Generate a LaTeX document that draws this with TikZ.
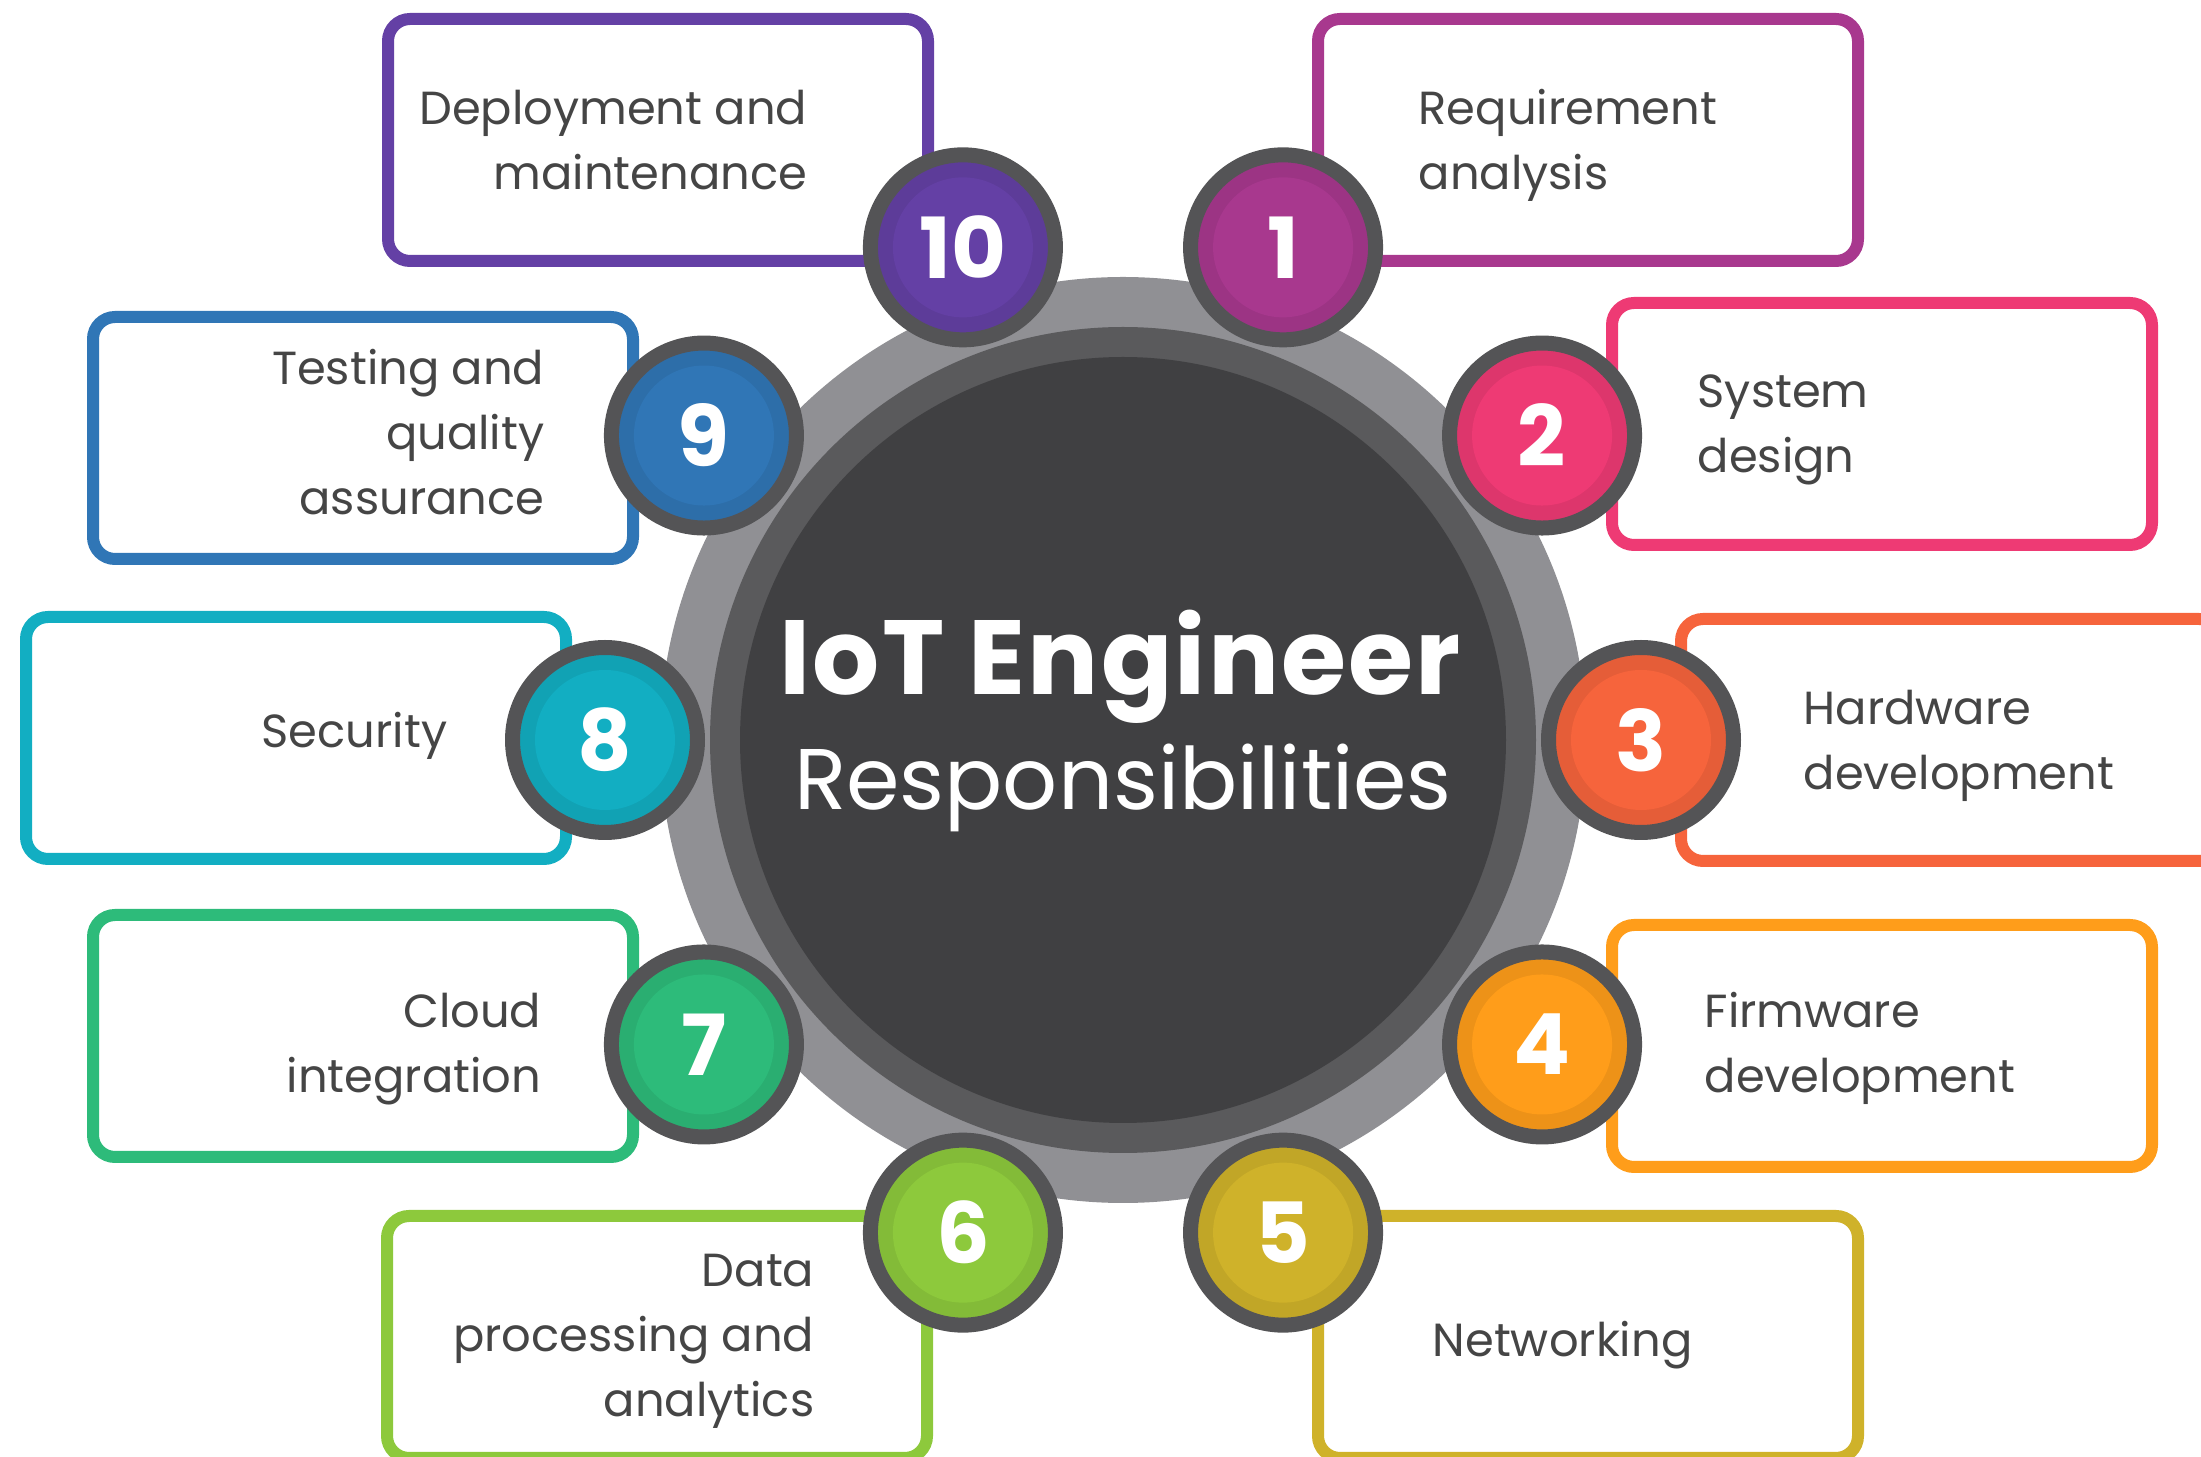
\documentclass[tikz,border=0pt]{standalone}
\usepackage{fontspec}
\setmainfont{Poppins}
\newfontfamily\headfont[LetterSpace=2]{Poppins}
\newcommand\itemfont{\fontsize{13.2}{18.5}\selectfont}
\newcommand\badgefont{\fontsize{24}{24}\selectfont\bfseries}

\definecolor{deploy}{HTML}{6440A5}
\definecolor{reqmt}{HTML}{A8388E}
\definecolor{sysdes}{HTML}{EE3A74}
\definecolor{hardw}{HTML}{F6643C}
\definecolor{firmw}{HTML}{FF9D1A}
\definecolor{netw}{HTML}{CFB22A}
\definecolor{datap}{HTML}{8DC93C}
\definecolor{cloud}{HTML}{2DBB7A}
\definecolor{secur}{HTML}{12AEC2}
\definecolor{testq}{HTML}{3076B6}
\definecolor{ringlight}{HTML}{909094}
\definecolor{ringmid}{HTML}{5A5A5C}
\definecolor{core}{HTML}{404042}
\definecolor{ringdark}{HTML}{545456}
\definecolor{textgray}{HTML}{454545}

\begin{document}
\begin{tikzpicture}[
  panel/.style={draw=#1, line width=0.12cm, rounded corners=0.22cm, fill=white,
    minimum width=5.40cm, minimum height=2.42cm, inner sep=0pt},
  badge/.style={circle, draw=ringdark, line width=0.15cm, minimum size=1.85cm,
    inner sep=0pt, fill=#1!93!black, text=white, font=\badgefont,
    path picture={\fill[#1] (path picture bounding box.center) circle (0.70);}},
  lefttext/.style={text=textgray, font=\itemfont, inner sep=0pt, align=left, anchor=base west},
  righttext/.style={text=textgray, font=\itemfont, inner sep=0pt, align=right, anchor=base east}
]
  \useasboundingbox (0,0) rectangle (22.01,14.57);
  \clip (0,0) rectangle (22.01,14.57);

  % centre disc
  \coordinate (ctr) at (11.23,7.17);
  \fill[ringlight] (ctr) circle (4.63);
  \fill[ringmid] (ctr) circle (4.13);
  \fill[core] (ctr) circle (3.83);
  \node[font=\headfont\bfseries\fontsize{30}{30}\selectfont, text=white, anchor=base]
    (title) at (11.20,7.62) {IoT Engineer};
  \node[font=\fontsize{24.5}{24.5}\selectfont, text=white, anchor=base]
    (subtitle) at (11.23,6.47) {Responsibilities};

  % boxes
  \node[panel=deploy] (box10) at (6.58,13.17) {};
  \node[panel=reqmt]  (box1)  at (15.88,13.17) {};
  \node[panel=sysdes] (box2)  at (18.82,10.33) {};
  \node[panel=hardw]  (box3)  at (19.51,7.17) {};
  \node[panel=firmw]  (box4)  at (18.82,4.11) {};
  \node[panel=netw]   (box5)  at (15.88,1.20) {};
  \node[panel=datap]  (box6)  at (6.57,1.20) {};
  \node[panel=cloud]  (box7)  at (3.63,4.21) {};
  \node[panel=secur]  (box8)  at (2.96,7.19) {};
  \node[panel=testq]  (box9)  at (3.63,10.19) {};

  % box texts (base = last line)
  \node[righttext] (t10) at (8.08,12.67) {Deployment and\\maintenance};
  \node[lefttext]  (t1)  at (14.18,12.67) {Requirement\\analysis};
  \node[lefttext]  (t2)  at (16.97,9.84) {System\\design};
  \node[lefttext]  (t3)  at (18.03,6.67) {Hardware\\development};
  \node[lefttext]  (t4)  at (17.04,3.64) {Firmware\\development};
  \node[lefttext]  (t5)  at (14.32,1.00) {Networking};
  \node[righttext] (t6)  at (8.15,0.40) {Data\\processing and\\analytics};
  \node[righttext] (t7)  at (5.42,3.64) {Cloud\\integration};
  \node[righttext] (t8)  at (4.48,7.09) {Security};
  \node[righttext] (t9)  at (5.45,9.42) {Testing and\\quality\\assurance};

  % numbered badges
  \node[badge=reqmt]  (n1)  at ([shift={(72:5.18)}]ctr)   {1};
  \node[badge=sysdes] (n2)  at ([shift={(36:5.18)}]ctr)   {2};
  \node[badge=hardw]  (n3)  at ([shift={(0:5.18)}]ctr)    {3};
  \node[badge=firmw]  (n4)  at ([shift={(-36:5.18)}]ctr)  {4};
  \node[badge=netw]   (n5)  at ([shift={(-72:5.18)}]ctr)  {5};
  \node[badge=datap]  (n6)  at ([shift={(-108:5.18)}]ctr) {6};
  \node[badge=cloud]  (n7)  at ([shift={(-144:5.18)}]ctr) {7};
  \node[badge=secur]  (n8)  at ([shift={(180:5.18)}]ctr)  {8};
  \node[badge=testq]  (n9)  at ([shift={(144:5.18)}]ctr)  {9};
  \node[badge=deploy] (n10) at ([shift={(108:5.18)}]ctr)  {10};
\end{tikzpicture}
\end{document}
